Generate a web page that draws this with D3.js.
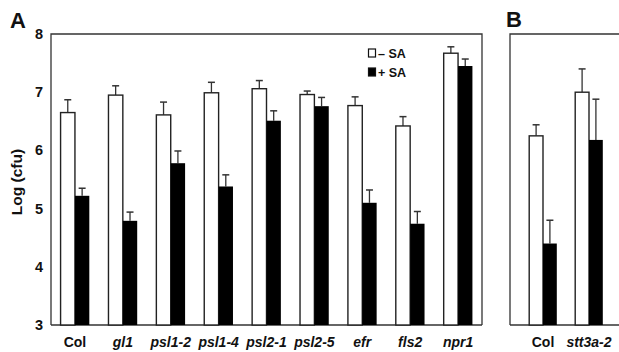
<!DOCTYPE html>
<html><head><meta charset="utf-8">
<script src="https://cdn.jsdelivr.net/npm/d3@7"></script>
<style>body{margin:0;background:#fff}svg{display:block;font-family:"Liberation Sans",Arial,sans-serif}</style>
</head><body>
<svg id="c" width="619" height="352"></svg>
<script>
const catsA = ["Col","gl1","psl1-2","psl1-4","psl2-1","psl2-5","efr","fls2","npr1"];
const italicA = [false,true,true,true,true,true,true,true,true];
const minusSA_A = [6.65,6.95,6.61,6.99,7.06,6.96,6.77,6.42,7.67];
const minusSA_A_err = [0.22,0.16,0.22,0.18,0.14,0.06,0.15,0.16,0.11];
const plusSA_A = [5.22,4.79,5.78,5.38,6.51,6.76,5.10,4.74,7.45];
const plusSA_A_err = [0.13,0.15,0.21,0.20,0.17,0.15,0.22,0.21,0.12];
const catsB = ["Col","stt3a-2"];
const italicB = [false,true];
const minusSA_B = [6.25,7.00];
const minusSA_B_err = [0.19,0.40];
const plusSA_B = [4.40,6.18];
const plusSA_B_err = [0.40,0.70];
const yTicks = [3,4,5,6,7,8];
const seriesNames = ["\u2013 SA","+ SA"];

const svg = d3.select("#c");
const yTop = 34, yBottom = 325;
const y = d3.scaleLinear().domain([3,8]).range([yBottom, yTop]);

function panel(x0, x1, rangeB, cats, italic, m, me, p, pe, frameRight) {
  const g = svg.append("g");
  const x = d3.scaleBand().domain(cats).range(rangeB).paddingInner(0.4).paddingOuter(0.2);
  const bw = x.bandwidth()/2;
  g.append("path").attr("fill","none").attr("stroke","#333").attr("stroke-width",1.3)
    .attr("d", `M${x0},${yBottom}V${yTop}H${x1}` + (frameRight ? `V${yBottom}` : ""));
  g.append("line").attr("x1",x0).attr("x2",x1).attr("y1",yBottom).attr("y2",yBottom).attr("stroke","#333").attr("stroke-width",1.3);
  const data = cats.map((c,i)=>({c, i, m:m[i], me:me[i], p:p[i], pe:pe[i]}));
  const eb = (xc, v, e) => {
    g.append("line").attr("x1",xc).attr("x2",xc).attr("y1",y(v)).attr("y2",y(v+e)).attr("stroke","#333").attr("stroke-width",1.3);
    g.append("line").attr("x1",xc-3.5).attr("x2",xc+3.5).attr("y1",y(v+e)).attr("y2",y(v+e)).attr("stroke","#333").attr("stroke-width",1.5);
  };
  data.forEach(d=>{
    const xs = x(d.c);
    eb(xs + bw/2, d.m, d.me);
    eb(xs + bw + bw/2, d.p, d.pe);
  });
  g.selectAll("rect.w").data(data).join("rect")
    .attr("x", d=>x(d.c)).attr("y", d=>y(d.m)).attr("width", bw).attr("height", d=>y(3)-y(d.m))
    .attr("fill","#fff").attr("stroke","#222").attr("stroke-width",1.4);
  g.selectAll("rect.b").data(data).join("rect")
    .attr("x", d=>x(d.c)+bw).attr("y", d=>y(d.p)).attr("width", bw).attr("height", d=>y(3)-y(d.p))
    .attr("fill","#000");
  g.selectAll("text.cat").data(data).join("text")
    .attr("x", d=>x(d.c)+x.bandwidth()/2).attr("y", 347).attr("text-anchor","middle")
    .attr("font-size", 14).attr("font-weight","bold").attr("fill","#111")
    .attr("font-style", d=>italic[d.i] ? "italic" : "normal").text(d=>d.c);
  return x;
}

panel(51, 482, [51,482], catsA, italicA, minusSA_A, minusSA_A_err, plusSA_A, plusSA_A_err, true);
panel(510, 625, [520,612], catsB, italicB, minusSA_B, minusSA_B_err, plusSA_B, plusSA_B_err, false);

svg.append("g").selectAll("text").data(yTicks).join("text")
  .attr("x", 43).attr("y", d=>y(d)+5).attr("text-anchor","end")
  .attr("font-size", 14.5).attr("font-weight","bold").attr("fill","#111").text(d=>d);
svg.append("text").attr("transform","translate(22,182) rotate(-90)").attr("text-anchor","middle")
  .attr("font-size", 15.5).attr("font-weight","bold").attr("fill","#111").text("Log (cfu)");

svg.append("text").attr("x", 10).attr("y", 28).attr("font-size", 22).attr("font-weight","bold").attr("fill","#111").text("A");
svg.append("text").attr("x", 506).attr("y", 27).attr("font-size", 22).attr("font-weight","bold").attr("fill","#111").text("B");

const lg = svg.append("g");
seriesNames.forEach((n,i)=>{
  const yy = 49 + i*19;
  lg.append("rect").attr("x", 368.5).attr("y", yy).attr("width", 7).attr("height", 8)
    .attr("fill", i===0 ? "#fff" : "#000").attr("stroke","#111").attr("stroke-width",1.2);
  lg.append("text").attr("x", 378).attr("y", yy+8.5).attr("font-size", 12.5).attr("font-weight","bold").attr("fill","#111").text(n);
});
</script>
</body></html>
